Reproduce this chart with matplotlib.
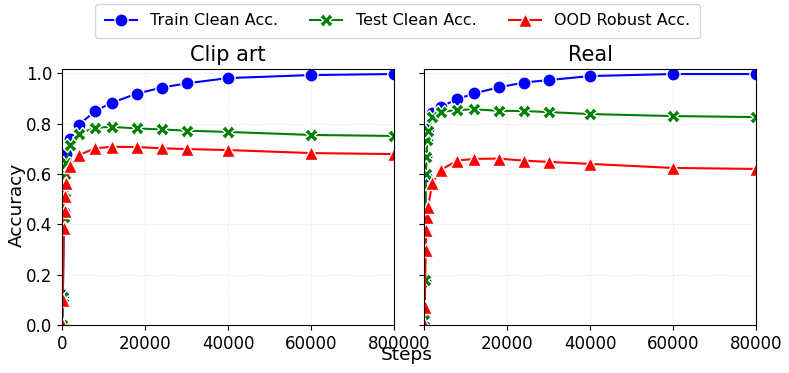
import matplotlib
matplotlib.use("Agg")
import matplotlib.pyplot as plt

steps = [0, 200, 400, 600, 800, 1000, 2000, 4000, 8000, 12000, 18000, 24000, 30000, 40000, 60000, 80000]

clip_train = [0.0, 0.12, 0.45, 0.55, 0.62, 0.68, 0.74, 0.795, 0.85, 0.883, 0.919, 0.943, 0.96, 0.981, 0.993, 0.997]
clip_test = [0.0, 0.11, 0.43, 0.53, 0.60, 0.645, 0.715, 0.759, 0.784, 0.787, 0.781, 0.777, 0.772, 0.767, 0.755, 0.751]
clip_ood = [0.005, 0.099, 0.384, 0.454, 0.512, 0.563, 0.632, 0.675, 0.702, 0.708, 0.707, 0.702, 0.699, 0.695, 0.683, 0.679]

real_train = [0.0, 0.175, 0.59, 0.67, 0.74, 0.78, 0.842, 0.867, 0.897, 0.92, 0.944, 0.963, 0.973, 0.989, 0.997, 0.997]
real_test = [0.02, 0.179, 0.60, 0.669, 0.735, 0.771, 0.825, 0.847, 0.854, 0.857, 0.851, 0.850, 0.846, 0.838, 0.830, 0.826]
real_ood = [0.005, 0.073, 0.298, 0.377, 0.43, 0.47, 0.565, 0.616, 0.653, 0.66, 0.661, 0.653, 0.648, 0.640, 0.624, 0.62]

titles = ["Clip art", "Real"]
series_names = ["Train Clean Acc.", "Test Clean Acc.", "OOD Robust Acc."]
panels = [(clip_train, clip_test, clip_ood), (real_train, real_test, real_ood)]

colors = ["blue", "green", "red"]
markers = ["o", "X", "^"]
msizes = [9.5, 9.5, 9.5]

fig = plt.figure(figsize=(7.89, 3.73), dpi=100)
ax1 = fig.add_axes([0.0786, 0.1287, 0.4208, 0.6863])
ax2 = fig.add_axes([0.5374, 0.1287, 0.4208, 0.6863], sharey=ax1)
axes = [ax1, ax2]

handles = []
for ax, title, data in zip(axes, titles, panels):
    for vals, name, c, m, ms in zip(data, series_names, colors, markers, msizes):
        h, = ax.plot(steps, vals, color=c, marker=m, markersize=ms, lw=1.5,
                     markeredgecolor="white", markeredgewidth=1.0, label=name)
        if ax is ax1:
            handles.append(h)
    ax.set_xlim(0, 80000)
    ax.set_ylim(0, 1.017)
    ax.set_xticks([0, 20000, 40000, 60000, 80000])
    ax.set_yticks([0.0, 0.2, 0.4, 0.6, 0.8, 1.0])
    ax.tick_params(labelsize=12)
    ax.grid(True, color="#e4e4e4", lw=0.6, ls="--", alpha=0.6)
    ax.set_title(title, fontsize=15)

ax2.tick_params(labelleft=False)
ax1.set_yticklabels(["0.0", "0.2", "0.4", "0.6", "0.8", "1.0"])

fig.text(0.022, 0.45, "Accuracy", rotation=90, fontsize=13.3, ha="center", va="center")
fig.text(0.515, 0.048, "Steps", fontsize=13.3, ha="center", va="center")

fig.legend(handles=handles, labels=series_names, loc="center", ncol=3,
           bbox_to_anchor=(0.504, 0.944), fontsize=11.5, frameon=True,
           columnspacing=2.0, handlelength=2.0, handletextpad=0.86, borderpad=0.6)

fig.savefig("out.png", dpi=100)
